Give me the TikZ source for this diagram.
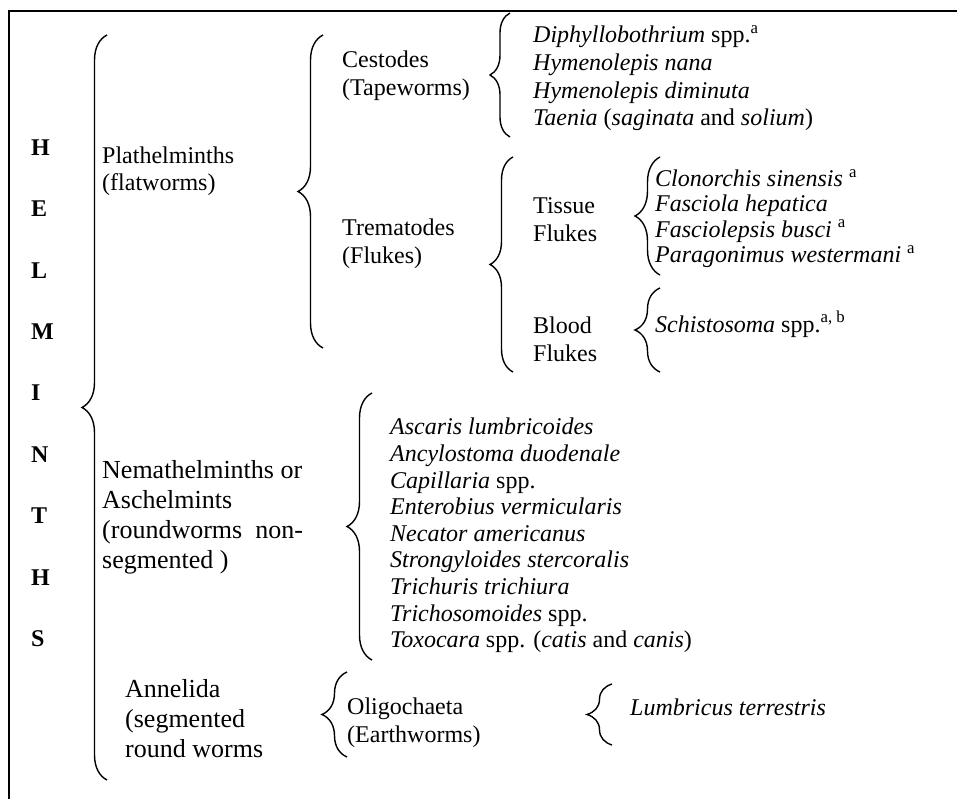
\documentclass[tikz,border=0pt]{standalone}
\usepackage{fontspec}
\setmainfont{Liberation Serif}
\usetikzlibrary{decorations.pathreplacing}
\tikzset{
  curly/.style={decorate, decoration={brace, amplitude=#1}, line width=1.4pt},
  curly/.default=25pt,
  grp/.style={anchor=west, align=left, inner sep=0pt, font=\fontsize{24}{28}\selectfont},
  big/.style={grp, font=\fontsize{26}{30}\selectfont},
  sp/.style={grp, font=\fontsize{24}{26.6}\selectfont},
  one/.style={anchor=base west, inner sep=0pt, font=\fontsize{24}{27}\selectfont}
}
\begin{document}
\begin{tikzpicture}[x=1pt, y=-1pt]
\useasboundingbox (0,0) rectangle (957,799);
\draw[line width=2pt] (957,11) -- (9,11) -- (9,799);
\foreach \l [count=\i] in {H,E,L,M,I,N,T,H,S}
  \node[anchor=west, inner sep=0pt, font=\fontsize{24}{28}\selectfont\bfseries] (L\i) at (31,{147.5+61.4*(\i-1)}) {\l};
% first level
\coordinate (Hb) at (107,780);
\coordinate (Ht) at (107,35);
\draw[curly] (Hb) -- (Ht);
\node[grp, font=\fontsize{24}{27}\selectfont] (Pl) at (102,171.5) {Plathelminths\\(flatworms)};
\node[big] (Ne) at (102,517) {Nemathelminths or\\Aschelmints\\(roundworms\ \ non-\\segmented )};
\node[big] (An) at (125,719) {Annelida\\(segmented\\round worms};
% flatworms
\coordinate (Pb) at (323,348);
\coordinate (Pt) at (323,35);
\draw[curly] (Pb) -- (Pt);
\node[grp] (Ce) at (342,76) {Cestodes\\(Tapeworms)};
\node[grp] (Tr) at (342,243.5) {Trematodes\\(Flukes)};
\coordinate (Cb) at (510,137);
\coordinate (Ct) at (510,13);
\draw[curly=20pt] (Cb) -- (Ct);
\node[grp, font=\fontsize{24}{27.7}\selectfont] (CeL) at (533,78.5) {\textit{Diphyllobothrium} spp.\textsuperscript{a}\\
  \textit{Hymenolepis nana}\\ \textit{Hymenolepis diminuta}\\ \textit{Taenia} (\textit{saginata} and \textit{solium})};
\coordinate (Tb) at (513,372);
\coordinate (Tt) at (513,157);
\draw[curly=23pt] (Tb) -- (Tt);
\node[grp] (Ti) at (533,220) {Tissue\\Flukes};
\node[grp] (Bl) at (533,339) {Blood\\Flukes};
\coordinate (Tib) at (660,275);
\coordinate (Tit) at (660,157);
\draw[curly] (Tib) -- (Tit);
\node[grp, font=\fontsize{24}{25.2}\selectfont] (TiL) at (655,218.5) {\textit{Clonorchis sinensis} \textsuperscript{a}\\
  \textit{Fasciola hepatica}\\ \textit{Fasciolepsis busci} \textsuperscript{a}\\ \textit{Paragonimus westermani} \textsuperscript{a}};
\coordinate (Blb) at (660,372);
\coordinate (Blt) at (660,288);
\draw[curly] (Blb) -- (Blt);
\node[one] (BlL) at (655,332) {\textit{Schistosoma} spp.\textsuperscript{a, b}};
% roundworms
\coordinate (Nb) at (372,660);
\coordinate (Nt) at (372,393);
\draw[curly] (Nb) -- (Nt);
\node[sp] (NeL) at (390,535.5) {\textit{Ascaris lumbricoides}\\ \textit{Ancylostoma duodenale}\\ \textit{Capillaria} spp.\\
  \textit{Enterobius vermicularis}\\ \textit{Necator americanus}\\ \textit{Strongyloides stercoralis}\\
  \textit{Trichuris trichiura}\\ \textit{Trichosomoides} spp.\\ \textit{Toxocara} spp. (\textit{catis} and \textit{canis})};
% segmented worms
\coordinate (Ab) at (347,757);
\coordinate (At) at (347,672);
\draw[curly] (Ab) -- (At);
\node[grp] (Ol) at (347,723) {Oligochaeta\\(Earthworms)};
\coordinate (Ob) at (612,745);
\coordinate (Ot) at (612,684);
\draw[curly] (Ob) -- (Ot);
\node[one] (OlL) at (630,715) {\textit{Lumbricus terrestris}};
\end{tikzpicture}
\end{document}
